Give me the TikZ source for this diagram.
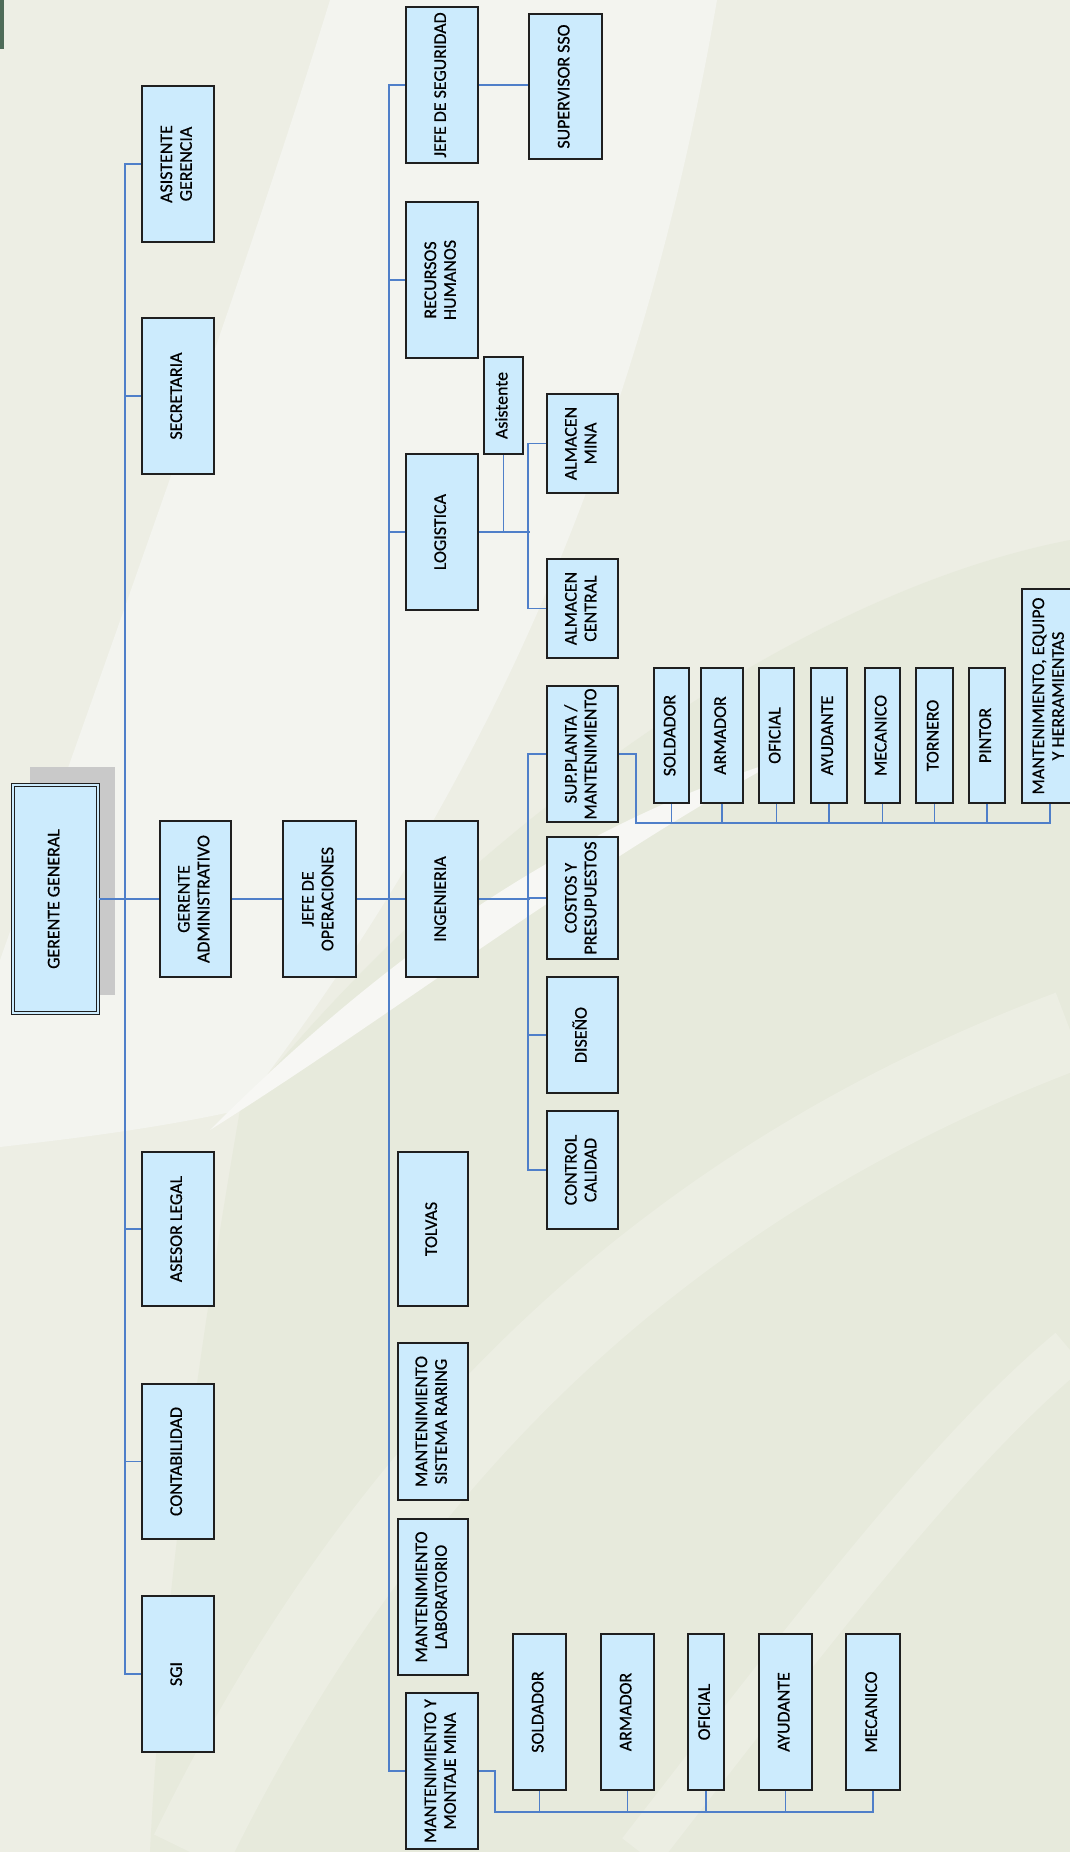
\documentclass[tikz,border=0pt]{standalone}
\usepackage{fontspec}
\setmainfont{Carlito}
\newfontfamily\cajafont{Carlito}[FakeBold=0.6]
\usepackage{graphicx}
\usetikzlibrary{shadows}
\definecolor{celeste}{HTML}{CCEBFD}
\definecolor{conector}{HTML}{4F7FC9}
\definecolor{fondo}{HTML}{EDEEE4}
\definecolor{claro}{HTML}{F3F4EF}
\definecolor{blanco}{HTML}{F7F7F4}
\definecolor{verdoso}{HTML}{E7EADC}
\definecolor{franja}{HTML}{ECEEE3}
\definecolor{sombra}{gray}{0.79}
\definecolor{borde}{gray}{0.12}
\definecolor{pino}{HTML}{4E6B58}
\newcommand{\vtxt}[1]{\rotatebox{90}{\makebox[0pt]{\begin{tabular}{@{}c@{}}#1\end{tabular}}}}

\begin{document}
\begin{tikzpicture}[x=0.02cm, y=-0.02cm,
    every node/.style={font=\cajafont\fontsize{10.2}{11.2}\selectfont},
    caja/.style={draw=borde, line width=1pt, fill=celeste, inner sep=0pt},
    linea/.style={draw=conector, line width=1.1pt}]
  \useasboundingbox (0,0) rectangle (1070,1852);
  % fondo
  \fill[fondo] (0,0) rectangle (1070,1852);
  \fill[claro] (330,0) -- (717,0) .. controls (640,450) and (480,800) .. (240,1110)
    .. controls (150,1130) and (60,1140) .. (0,1147) -- (0,960)
    .. controls (120,620) and (250,260) .. (330,0) -- cycle;
  \fill[verdoso] (1070,540) .. controls (760,600) and (420,880) .. (240,1110)
    .. controls (190,1400) and (160,1650) .. (150,1852) -- (1070,1852) -- cycle;
  \draw[franja, line width=1.6cm] (190,1852) .. controls (400,1420) and (700,1170) .. (1070,1030);
  \draw[franja, line width=0.9cm] (640,1852) .. controls (820,1620) and (950,1450) .. (1070,1350);
  \fill[blanco] (210,1130) .. controls (380,960) and (560,830) .. (780,760)
    .. controls (580,870) and (400,1010) .. (210,1130) -- cycle;
  \fill[pino] (0,0) rectangle (4,49);

  % gerente general
  \node[caja, double=celeste, double distance=1.3pt, line width=0.75pt,
    minimum width=85*0.02cm, minimum height=228*0.02cm,
    drop shadow={shadow xshift=0.34cm, shadow yshift=0.37cm, fill=sombra, opacity=1}]
    (gg) at (55.5,899) {\vtxt{GERENTE GENERAL}};

  % cajas
  \foreach \n/\xa/\ya/\xb/\yb/\t in {
    ag/142/86/214/242/{ASISTENTE\\GERENCIA},
    sec/142/318/214/474/{SECRETARIA},
    al/142/1152/214/1306/{ASESOR LEGAL},
    cont/142/1384/214/1539/{CONTABILIDAD},
    sgi/142/1596/214/1752/{SGI},
    ga/160/821/231/977/{GERENTE\\ADMINISTRATIVO},
    jo/283/821/356/977/{JEFE DE\\OPERACIONES},
    js/406/7/478/163/{JEFE DE SEGURIDAD},
    rrhh/406/202/478/358/{RECURSOS\\HUMANOS},
    log/406/454/478/610/{LOGISTICA},
    ing/406/821/478/977/{INGENIERIA},
    tol/398/1152/468/1306/{TOLVAS},
    msr/398/1343/468/1500/{MANTENIMIENTO\\SISTEMA RARING},
    mlab/398/1519/468/1675/{MANTENIMIENTO\\LABORATORIO},
    mmm/406/1693/478/1849/{MANTENIMIENTO Y\\MONTAJE MINA},
    sso/529/14/602/159/{SUPERVISOR SSO},
    asis/484/357/523/454/{Asistente},
    am/547/394/618/493/{ALMACEN\\MINA},
    ac/547/559/618/658/{ALMACEN\\CENTRAL},
    sup/547/686/618/822/{SUP.PLANTA /\\MANTENIMIENTO},
    cyp/547/837/618/959/{COSTOS Y\\PRESUPUESTOS},
    dis/547/977/618/1093/{DISEÑO},
    cc/547/1111/618/1229/{CONTROL\\CALIDAD},
    p8/1022/589/1078/803/{MANTENIMIENTO, EQUIPO\\Y HERRAMIENTAS}}{
    \node[caja, minimum width=(\xb-\xa)*0.02cm, minimum height=(\yb-\ya)*0.02cm]
      (\n) at ({(\xa+\xb)/2},{(\ya+\yb)/2}) {\vtxt{\t}};
  }
  % personal de planta
  \foreach \n/\xa/\xb/\t in {p1/654/689/SOLDADOR, p2/701/743/ARMADOR, p3/759/794/OFICIAL,
    p4/811/847/AYUDANTE, p5/865/900/MECANICO, p6/916/953/TORNERO, p7/969/1005/PINTOR}{
    \node[caja, minimum width=(\xb-\xa)*0.02cm, minimum height=135*0.02cm]
      (\n) at ({(\xa+\xb)/2},735.5) {\vtxt{\t}};
  }
  % personal de mina
  \foreach \n/\xa/\xb/\t in {m1/513/566/SOLDADOR, m2/601/654/ARMADOR, m3/688/724/OFICIAL,
    m4/759/812/AYUDANTE, m5/846/900/MECANICO}{
    \node[caja, minimum width=(\xb-\xa)*0.02cm, minimum height=156*0.02cm]
      (\n) at ({(\xa+\xb)/2},1712) {\vtxt{\t}};
  }

  % conectores
  \draw[linea] (gg.east) -- (gg.east -| ga.west);
  \draw[linea] (ga.east) -- (jo.west);
  \draw[linea] (jo.east) -- (ing.west);
  \draw[linea] (ag.west) -- ++(-16,0) |- (sgi.west);
  \foreach \n in {sec,al,cont}
    \draw[linea] (\n.west) -- ++(-16,0);
  \draw[linea] (js.west) -- ++(-16,0) |- (mmm.west);
  \foreach \n in {rrhh,log}
    \draw[linea] (\n.west) -- ++(-16,0);
  \draw[linea] (js.east) -- (js.east -| sso.west);
  % logistica
  \draw[linea] (log.east) -- ++(51,0);
  \draw[linea] (am.west) -- ++(-18,0) |- (ac.west);
  \draw[linea] (asis.south) -- (asis.south |- log.east);
  % ingenieria
  \draw[linea] (ing.east) -- ++(51,0);
  \draw[linea] (sup.west) -- ++(-18,0) |- (cc.west);
  \foreach \n in {cyp,dis}
    \draw[linea] (\n.west) -- ++(-18,0);
  % planta
  \path (p8.south) ++(0,19) coordinate (busP);
  \draw[linea] (sup.east) -- ++(17,0) |- (busP) -- (p8.south);
  \foreach \n in {p1,p2,p3,p4,p5,p6,p7}
    \draw[linea] (\n.south) -- (\n.south |- busP);
  % mina
  \path (m5.south) ++(0,21) coordinate (busM);
  \draw[linea] (mmm.east) -- ++(16,0) |- (busM) -- (m5.south);
  \foreach \n in {m1,m2,m3,m4}
    \draw[linea] (\n.south) -- (\n.south |- busM);
\end{tikzpicture}
\end{document}
